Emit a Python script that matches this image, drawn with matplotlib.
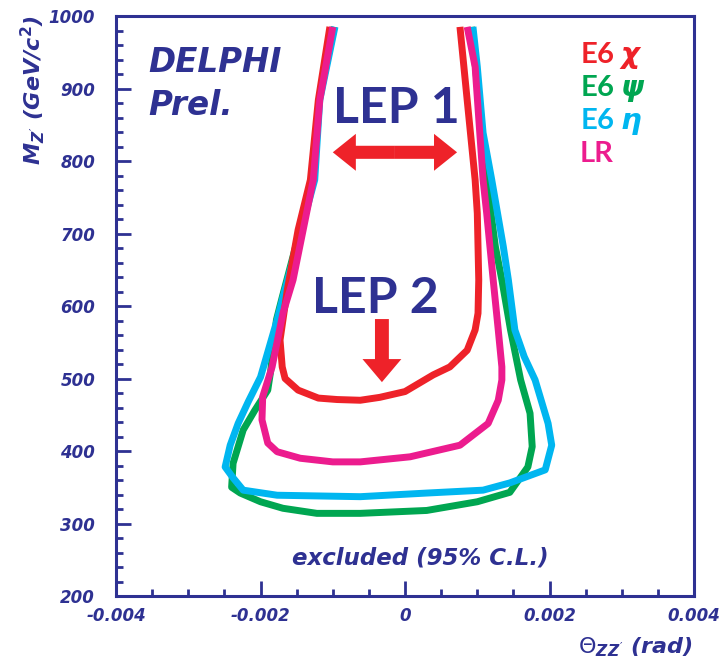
import matplotlib
matplotlib.use("Agg")
import matplotlib.pyplot as plt
from matplotlib.patches import FancyArrowPatch, ArrowStyle
from matplotlib.ticker import FixedLocator, FixedFormatter, MultipleLocator

plt.rcParams['axes.unicode_minus'] = False
plt.rcParams['mathtext.fontset'] = 'custom'
plt.rcParams['mathtext.rm'] = 'DejaVu Sans'
plt.rcParams['mathtext.it'] = 'DejaVu Sans:italic:bold'
plt.rcParams['mathtext.bf'] = 'DejaVu Sans:bold'

# exclusion contours (theta in rad, mass in GeV/c^2)
chi_x = [-0.00104, -0.00120, -0.00131, -0.00148, -0.00163, -0.00173, -0.00170, -0.00166,
         -0.00148, -0.00120, -0.00094, -0.00062, -0.00035, 0.00000, 0.00039, 0.00062,
         0.00086, 0.00097, 0.00101, 0.00102, 0.00100, 0.00097, 0.00086, 0.00076]
chi_y = [985, 884, 774, 705, 622, 553, 516, 500,
         484, 473, 471, 470, 474, 482, 505, 516,
         539, 567, 590, 636, 728, 774, 884, 985]

lr_x = [-0.00100, -0.00118, -0.00127, -0.00155, -0.00169, -0.00184, -0.00197, -0.00198,
        -0.00190, -0.00177, -0.00145, -0.00100, -0.00062, 0.00007, 0.00076, 0.00115,
        0.00129, 0.00134, 0.00134, 0.00129, 0.00122, 0.00113, 0.00108, 0.00097, 0.00086]
lr_y = [985, 884, 774, 636, 590, 516, 475, 443,
        411, 399, 390, 385, 385, 392, 408, 438,
        470, 498, 516, 567, 636, 728, 774, 930, 985]

eta_x = [-0.00097, -0.00118, -0.00125, -0.00169, -0.00177, -0.00200, -0.00217, -0.00231,
         -0.00242, -0.00249, -0.00238, -0.00224, -0.00177, -0.00062, 0.00030, 0.00108,
         0.00145, 0.00194, 0.00203, 0.00198, 0.00180, 0.00165, 0.00152, 0.00143,
         0.00136, 0.00120, 0.00108, 0.00100, 0.00094]
eta_y = [985, 884, 774, 612, 581, 502, 468, 438,
         408, 378, 363, 346, 339, 337, 342, 346,
         356, 374, 408, 438, 498, 530, 567, 636,
         682, 774, 839, 930, 985]

psi_x = [-0.00098, -0.00119, -0.00127, -0.00170, -0.00178, -0.00186, -0.00190, -0.00208,
         -0.00224, -0.00238, -0.00240, -0.00228, -0.00200, -0.00169, -0.00122, -0.00062,
         0.00030, 0.00100, 0.00145, 0.00170, 0.00176, 0.00173, 0.00160, 0.00146,
         0.00134, 0.00125, 0.00113, 0.00102, 0.00092]
psi_y = [985, 884, 774, 612, 581, 510, 484, 456,
         429, 383, 350, 342, 330, 321, 314, 314,
         318, 330, 343, 378, 406, 452, 498, 567,
         636, 682, 774, 884, 985]

legend_labels = ['E6 $\\chi$', 'E6 $\\psi$', 'E6 $\\eta$', 'LR']

xticks = [-0.004, -0.002, 0, 0.002, 0.004]
xtick_labels = ['-0.004', '-0.002', '0', '0.002', '0.004']
yticks = [200, 300, 400, 500, 600, 700, 800, 900, 1000]
ytick_labels = ['200', '300', '400', '500', '600', '700', '800', '900', '1000']

blue = '#2e3192'
red = '#ee2229'
green = '#00a651'
cyan = '#00b6f0'
pink = '#ec1c8e'

fig = plt.figure(figsize=(7.22, 6.64), dpi=100)
ax = fig.add_axes([0.1607, 0.1024, 0.8006, 0.8735])

lw = 5
ax.plot(psi_x, psi_y, color=green, lw=lw, solid_capstyle='butt')
ax.plot(eta_x, eta_y, color=cyan, lw=lw, solid_capstyle='butt')
ax.plot(chi_x, chi_y, color=red, lw=lw, solid_capstyle='butt')
ax.plot(lr_x, lr_y, color=pink, lw=lw, solid_capstyle='butt')

ax.set_xlim(-0.004, 0.004)
ax.set_ylim(200, 1000)

ax.xaxis.set_major_locator(FixedLocator(xticks))
ax.xaxis.set_major_formatter(FixedFormatter(xtick_labels))
ax.xaxis.set_minor_locator(MultipleLocator(0.0005))
ax.yaxis.set_major_locator(FixedLocator(yticks))
ax.yaxis.set_major_formatter(FixedFormatter(ytick_labels))
ax.yaxis.set_minor_locator(MultipleLocator(20))

for s in ax.spines.values():
    s.set_color(blue)
    s.set_linewidth(2.2)

ax.tick_params(which='both', direction='in', top=False, right=False, color=blue, width=2)
ax.tick_params(which='major', length=10.5)
ax.tick_params(which='minor', length=5)
ax.tick_params(axis='x', pad=8)
ax.tick_params(axis='y', pad=15)
for lab in ax.get_xticklabels() + ax.get_yticklabels():
    lab.set_fontsize(12)
    lab.set_fontweight('bold')
    lab.set_fontstyle('italic')
    lab.set_color(blue)

# texts
ax.text(-0.00356, 923, 'DELPHI', fontsize=23.5, fontweight='bold', style='italic', color=blue, va='baseline')
ax.text(-0.00356, 863, 'Prel.', fontsize=23.5, fontweight='bold', style='italic', color=blue, va='baseline')

lep_font = ['Lato', 'DejaVu Sans']
ax.text(-0.00100, 852, 'LEP 1', fontsize=36, fontweight='bold', family=lep_font, color=blue, va='baseline')
ax.text(-0.00129, 590, 'LEP 2', fontsize=36, fontweight='bold', family=lep_font, color=blue, va='baseline')

leg_colors = [red, green, cyan, pink]
leg_y = [935, 890, 844, 799]
for lab, c, yy in zip(legend_labels, leg_colors, leg_y):
    ax.text(0.00242, yy, lab, fontsize=21, fontweight='bold', family=lep_font, color=c, va='baseline')

ax.text(-0.00156, 243, 'excluded (95% C.L.)', fontsize=16.5, fontweight='bold', style='italic',
        color=blue, va='baseline')

# arrows
big = ArrowStyle('Simple', head_length=16.6, head_width=26.6, tail_width=9.4)
xc = -0.00014
for xe in (-0.00100, 0.00072):
    ax.add_patch(FancyArrowPatch((xc, 812), (xe, 812), arrowstyle=big, color=red, lw=0,
                                 shrinkA=0, shrinkB=0))
down = ArrowStyle('Simple', head_length=16.6, head_width=28, tail_width=10)
ax.add_patch(FancyArrowPatch((-0.00032, 582), (-0.00032, 495), arrowstyle=down, color=red, lw=0,
                             shrinkA=0, shrinkB=0))

# axis titles
fig.text(33 / 722, 1 - 90 / 664, "$M_{Z^{\\prime}}$ (GeV/c$^{\\mathbf{2}}$)", rotation=90,
         fontsize=16, fontweight='bold', style='italic', color=blue, ha='center', va='center')
fig.text(693 / 722, 1 - 653 / 664, "$\\Theta_{ZZ^{\\prime}}$ (rad)", fontsize=16,
         fontweight='bold', style='italic', color=blue, ha='right', va='baseline')

fig.savefig('out.png', dpi=100)
